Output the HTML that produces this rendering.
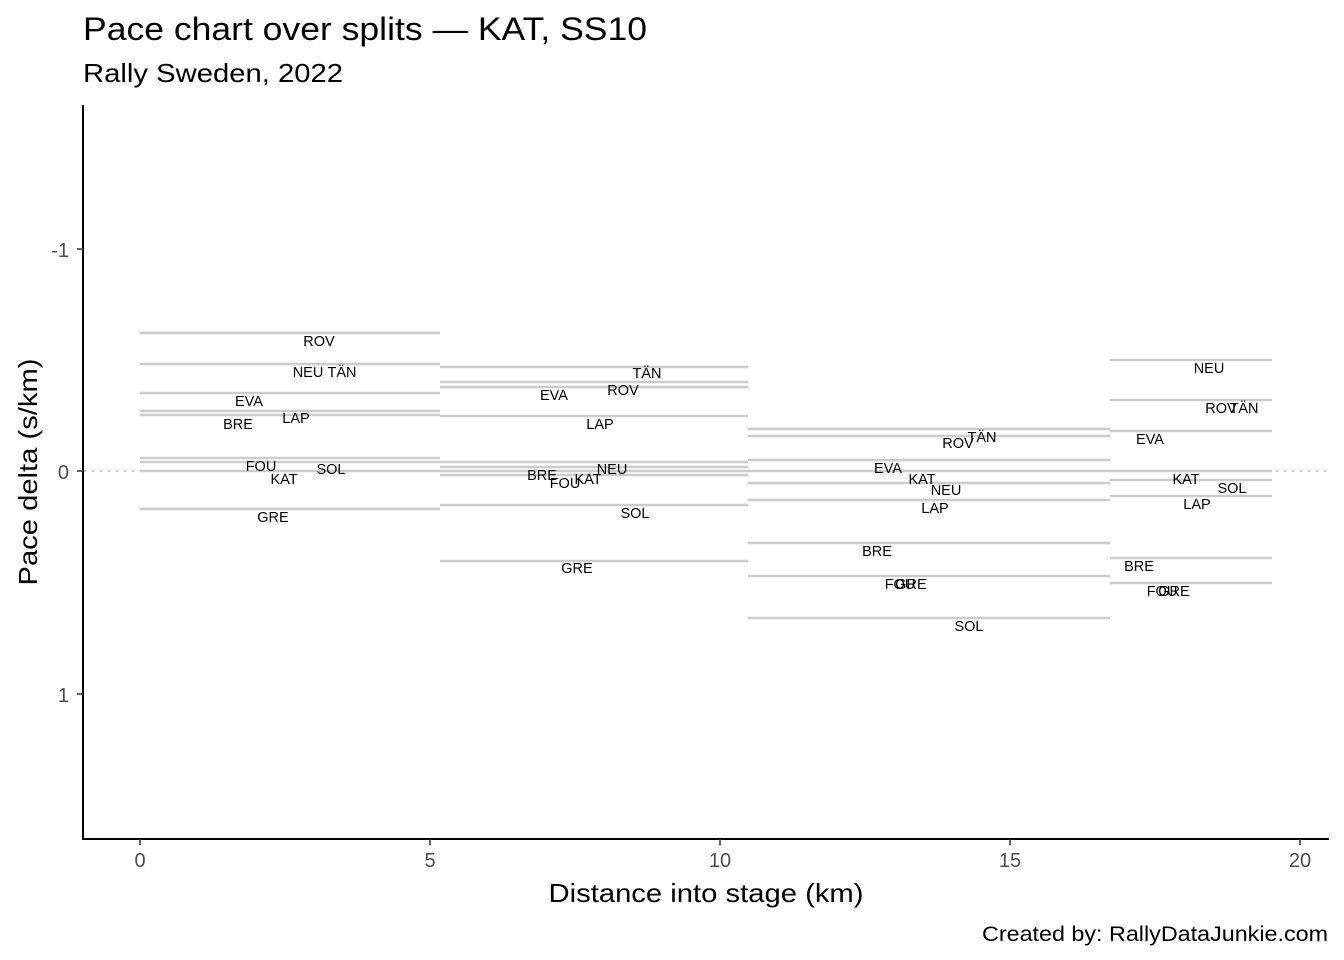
<!DOCTYPE html>
<html><head><meta charset="utf-8"><style>body{margin:0;background:#fff}svg{display:block}</style></head>
<body>
<svg width="1344" height="960" xmlns="http://www.w3.org/2000/svg" font-family="Liberation Sans, Arial, sans-serif">
<rect width="1344" height="960" fill="#fff"/>
<text x="83" y="40" font-size="32" textLength="564" lengthAdjust="spacingAndGlyphs">Pace chart over splits — KAT, SS10</text>
<text x="83" y="82" font-size="26" textLength="260" lengthAdjust="spacingAndGlyphs">Rally Sweden, 2022</text>
<line x1="84" y1="471" x2="1328" y2="471" stroke="#cfcfcf" stroke-width="2" stroke-dasharray="2,6"/>
<g stroke="#cccccc" stroke-width="2.5">
<line x1="140" x2="440" y1="333" y2="333"/><line x1="140" x2="440" y1="364" y2="364"/><line x1="140" x2="440" y1="393" y2="393"/><line x1="140" x2="440" y1="411" y2="411"/><line x1="140" x2="440" y1="415" y2="415"/><line x1="140" x2="440" y1="458" y2="458"/><line x1="140" x2="440" y1="462" y2="462"/><line x1="140" x2="440" y1="471" y2="471"/><line x1="140" x2="440" y1="509" y2="509"/>
<line x1="440" x2="748" y1="367" y2="367"/><line x1="440" x2="748" y1="382" y2="382"/><line x1="440" x2="748" y1="387" y2="387"/><line x1="440" x2="748" y1="416" y2="416"/><line x1="440" x2="748" y1="462" y2="462"/><line x1="440" x2="748" y1="467" y2="467"/><line x1="440" x2="748" y1="471" y2="471"/><line x1="440" x2="748" y1="475" y2="475"/><line x1="440" x2="748" y1="505" y2="505"/><line x1="440" x2="748" y1="561" y2="561"/>
<line x1="748" x2="1110" y1="429" y2="429"/><line x1="748" x2="1110" y1="436" y2="436"/><line x1="748" x2="1110" y1="460" y2="460"/><line x1="748" x2="1110" y1="471" y2="471"/><line x1="748" x2="1110" y1="483" y2="483"/><line x1="748" x2="1110" y1="500" y2="500"/><line x1="748" x2="1110" y1="543" y2="543"/><line x1="748" x2="1110" y1="576" y2="576"/><line x1="748" x2="1110" y1="618" y2="618"/>
<line x1="1110" x2="1272" y1="360" y2="360"/><line x1="1110" x2="1272" y1="400" y2="400"/><line x1="1110" x2="1272" y1="431" y2="431"/><line x1="1110" x2="1272" y1="471" y2="471"/><line x1="1110" x2="1272" y1="480" y2="480"/><line x1="1110" x2="1272" y1="496" y2="496"/><line x1="1110" x2="1272" y1="558" y2="558"/><line x1="1110" x2="1272" y1="583" y2="583"/>
</g>
<g font-size="14.5" text-anchor="middle" fill="#000">
<text x="319" y="346">ROV</text><text x="308" y="377">NEU</text><text x="342" y="377">TÄN</text><text x="249" y="406">EVA</text><text x="238" y="429">BRE</text><text x="296" y="423">LAP</text><text x="261" y="471">FOU</text><text x="284" y="484">KAT</text><text x="331" y="474">SOL</text><text x="273" y="522">GRE</text>
<text x="647" y="378">TÄN</text><text x="623" y="395">ROV</text><text x="554" y="400">EVA</text><text x="600" y="429">LAP</text><text x="542" y="480">BRE</text><text x="565" y="488">FOU</text><text x="588" y="484">KAT</text><text x="612" y="474">NEU</text><text x="635" y="518">SOL</text><text x="577" y="573">GRE</text>
<text x="982" y="442">TÄN</text><text x="958" y="448">ROV</text><text x="888" y="473">EVA</text><text x="922" y="484">KAT</text><text x="946" y="495">NEU</text><text x="935" y="513">LAP</text><text x="877" y="556">BRE</text><text x="900" y="589">FOU</text><text x="911" y="589">GRE</text><text x="969" y="631">SOL</text>
<text x="1209" y="373">NEU</text><text x="1221" y="413">ROV</text><text x="1244" y="413">TÄN</text><text x="1150" y="444">EVA</text><text x="1186" y="484">KAT</text><text x="1232" y="493">SOL</text><text x="1197" y="509">LAP</text><text x="1139" y="571">BRE</text><text x="1162" y="596">FOU</text><text x="1174" y="596">GRE</text>
</g>
<g stroke="#000" stroke-width="2" fill="none"><line x1="83" y1="105" x2="83" y2="839"/><line x1="82" y1="839" x2="1329" y2="839"/></g>
<g stroke="#333" stroke-width="1.5"><line x1="77" y1="249" x2="83" y2="249"/><line x1="77" y1="471" x2="83" y2="471"/><line x1="77" y1="694" x2="83" y2="694"/>
<line x1="140" y1="839" x2="140" y2="845"/><line x1="430" y1="839" x2="430" y2="845"/><line x1="720" y1="839" x2="720" y2="845"/><line x1="1010" y1="839" x2="1010" y2="845"/><line x1="1300" y1="839" x2="1300" y2="845"/></g>
<g font-size="20" fill="#4d4d4d" text-anchor="end"><text x="69" y="257">-1</text><text x="69" y="479">0</text><text x="69" y="702">1</text></g>
<g font-size="20" fill="#4d4d4d" text-anchor="middle"><text x="140" y="867">0</text><text x="430" y="867">5</text><text x="720" y="867">10</text><text x="1010" y="867">15</text><text x="1300" y="867">20</text></g>
<text x="706" y="902" font-size="26" text-anchor="middle" textLength="315" lengthAdjust="spacingAndGlyphs">Distance into stage (km)</text>
<text transform="translate(37,472) rotate(-90)" font-size="26" text-anchor="middle" textLength="227" lengthAdjust="spacingAndGlyphs">Pace delta (s/km)</text>
<text x="1328" y="941" font-size="21" text-anchor="end" textLength="346" lengthAdjust="spacingAndGlyphs">Created by: RallyDataJunkie.com</text>
</svg>
</body></html>
